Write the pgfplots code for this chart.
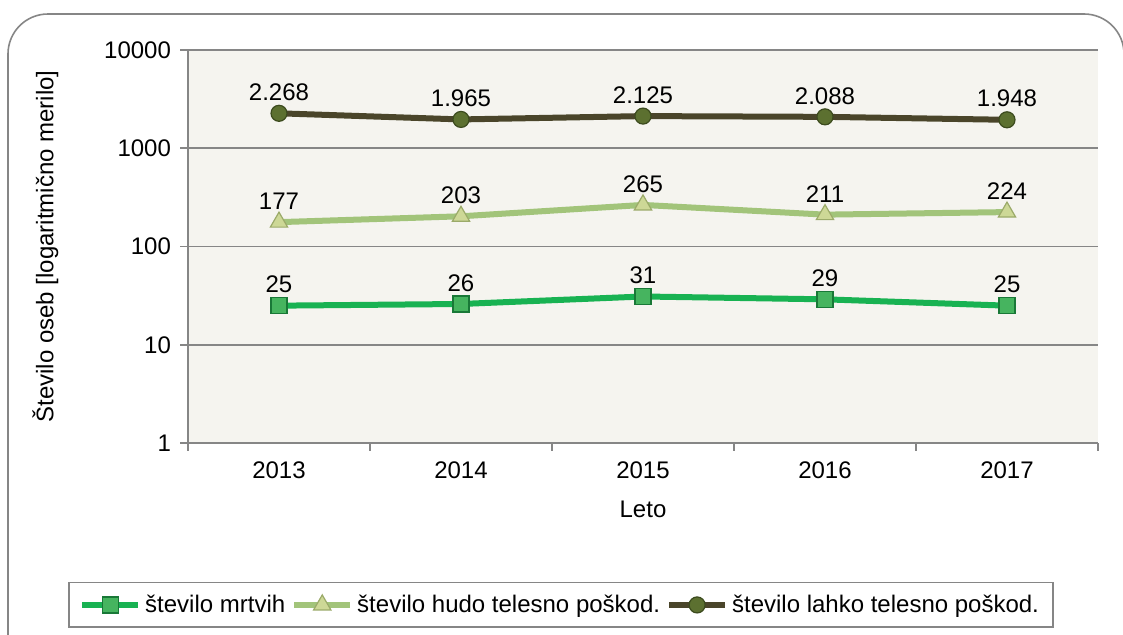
\documentclass[border=0pt]{standalone}
\usepackage{pgfplots}
\pgfplotsset{compat=1.18}
\usepackage{fontspec}
\setmainfont{Liberation Sans}

\definecolor{cMrtvi}{RGB}{24,178,82}
\definecolor{cMrtviF}{RGB}{70,180,95}
\definecolor{cMrtviD}{RGB}{25,120,55}
\definecolor{cHudo}{RGB}{162,196,122}
\definecolor{cHudoF}{RGB}{205,216,150}
\definecolor{cHudoD}{RGB}{155,170,105}
\definecolor{cLahko}{RGB}{74,69,42}
\definecolor{cLahkoF}{RGB}{92,112,48}
\definecolor{cLahkoD}{RGB}{60,75,30}
\definecolor{cBack}{RGB}{245,244,239}
\definecolor{cAxis}{RGB}{134,134,134}

\begin{document}
\begin{tikzpicture}
  \path[use as bounding box] (0,0) rectangle (561.5pt,317pt);
  \begin{scope}
    \clip (0,0) rectangle (561.5pt,317pt);
    \draw[cAxis, line width=0.8pt, rounded corners=20pt] (4pt,-30pt) rectangle (562pt,310pt);
  \end{scope}

  \begin{axis}[
    at={(94pt,95.5pt)}, anchor=south west,
    scale only axis,
    width=455pt, height=196.5pt,
    ymode=log,
    ymin=1, ymax=10000,
    ytick={1,10,100,1000,10000},
    yticklabels={1,10,100,1000,10000},
    yminorticks=false,
    xmin=-0.5, xmax=4.5,
    xtick={0,1,2,3,4},
    xticklabels={2013,2014,2015,2016,2017},
    minor xtick={-0.5,0.5,...,4.5},
    major x tick style={draw=none},
    minor tick length=4pt,
    major tick length=4pt,
    tick align=outside,
    tick style={cAxis, line width=0.8pt},
    axis x line*=bottom,
    axis y line*=left,
    axis line style={cAxis, line width=1pt, -},
    ymajorgrids,
    grid style={cAxis, line width=0.8pt},
    axis background/.style={fill=cBack},
    tick label style={font=\fontsize{12}{14}\selectfont},
    /pgf/number format/assume math mode=true,
    xticklabel style={yshift=-2pt},
    yticklabel style={xshift=-1pt},
    label style={font=\fontsize{12}{14}\selectfont},
    xlabel={Leto},
    ylabel={Število oseb [logaritmično merilo]},
    xlabel style={yshift=-4pt},
    ylabel style={yshift=16pt},
    point meta=explicit symbolic,
    nodes near coords={\pgfplotspointmeta},
    nodes near coords style={font=\fontsize{12}{14}\selectfont, anchor=south, inner sep=0pt, yshift=6pt, text=black},
    legend columns=3,
    legend style={
      at={(0.41,-0.412)}, anchor=center,
      draw=cAxis, line width=0.8pt,
      font=\fontsize{12}{14}\selectfont,
      /tikz/every even column/.append style={column sep=1pt},
      inner ysep=4pt, inner xsep=5pt,
    },
    legend cell align=left,
    legend image code/.code={
      \draw[mark repeat=2,mark phase=2,#1] plot coordinates {(0pt,0pt)(14pt,0pt)(28pt,0pt)};
    },
    clip=false,
  ]

  % stevilo mrtvih
  \addplot[
    color=cMrtvi, line width=3pt,
    mark=square*, mark size=4pt,
    mark options={fill=cMrtviF, draw=cMrtviD, line width=0.6pt},
  ] coordinates {
    (0,25) [25] (1,26) [26] (2,31) [31] (3,29) [29] (4,25) [25]
  };
  \addlegendentry{število mrtvih}

  % stevilo hudo telesno poskodovanih
  \addplot[
    color=cHudo, line width=3pt,
    mark=triangle*, mark size=5pt,
    mark options={fill=cHudoF, draw=cHudoD, line width=0.6pt},
  ] coordinates {
    (0,177) [177] (1,203) [203] (2,265) [265] (3,211) [211] (4,224) [224]
  };
  \addlegendentry{število hudo telesno poškod.}

  % stevilo lahko telesno poskodovanih
  \addplot[
    color=cLahko, line width=3pt,
    mark=*, mark size=4pt,
    mark options={fill=cLahkoF, draw=cLahkoD, line width=0.6pt},
  ] coordinates {
    (0,2268) [2.268] (1,1965) [1.965] (2,2125) [2.125] (3,2088) [2.088] (4,1948) [1.948]
  };
  \addlegendentry{število lahko telesno poškod.}

  \end{axis}
\end{tikzpicture}
\end{document}
